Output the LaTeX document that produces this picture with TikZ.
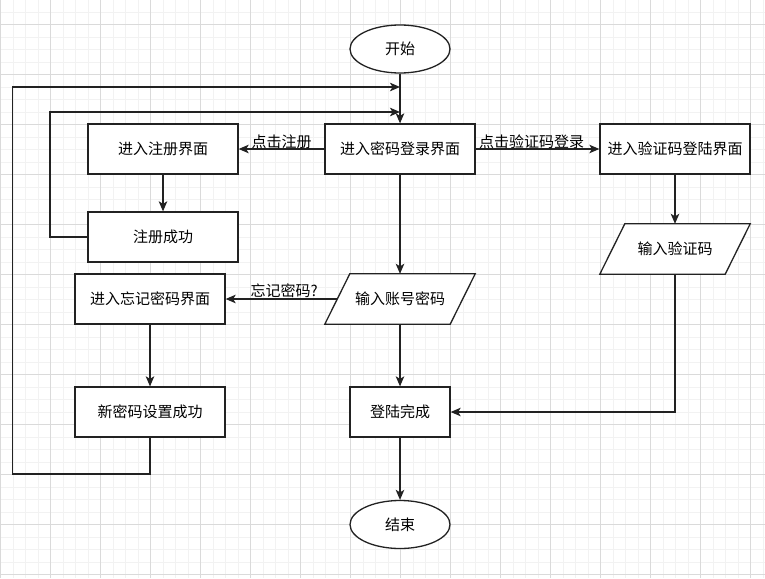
\documentclass[tikz,border=0pt]{standalone}
\usepackage{fontspec}
\newfontfamily\cjk{Noto Sans CJK SC}
\usetikzlibrary{arrows.meta,shapes.geometric}
\definecolor{minorgrid}{HTML}{F2F2F2}
\definecolor{majorgrid}{HTML}{DADADA}
\definecolor{ink}{HTML}{222222}
\tikzset{
  base/.style={font=\cjk\fontsize{15}{18}\selectfont, text=black},
  box/.style={base, draw=ink, line width=1.3pt, fill=white, minimum width=150pt, minimum height=50pt, inner sep=0pt},
  ell/.style={base, ellipse, draw=ink, line width=1.3pt, fill=white, minimum width=100pt, minimum height=48pt, inner sep=0pt},
  paratext/.style={base, minimum width=150pt, minimum height=50pt, inner sep=0pt},
  arr/.style={draw=ink, line width=1.3pt, -{Stealth[length=10pt,width=8.5pt,inset=2.5pt]}},
  lbl/.style={base, inner sep=0pt}
}
\begin{document}
\begin{tikzpicture}[x=1pt,y=-1pt]
\useasboundingbox (0,0) rectangle (765,578);
\fill[white] (0,0) rectangle (765,578);
% grid
\foreach \i in {0,...,61} {
  \draw[minorgrid, line width=0.8pt] ({0.5+12.5*\i},0) -- ({0.5+12.5*\i},578);
}
\foreach \i in {-1,...,46} {
  \draw[minorgrid, line width=0.8pt] (0,{24.5+12.5*\i}) -- (765,{24.5+12.5*\i});
}
\foreach \i in {0,...,15} {
  \draw[majorgrid, line width=0.9pt] ({0.5+50*\i},0) -- ({0.5+50*\i},578);
}
\foreach \i in {0,...,11} {
  \draw[majorgrid, line width=0.9pt] (0,{24.5+50*\i}) -- (765,{24.5+50*\i});
}

% nodes
\node[ell] (start) at (400,49) {开始};
\node[box] (pwd) at (400,149) {进入密码登录界面};
\node[box] (reg) at (163,149) {进入注册界面};
\node[box] (regok) at (163,237) {注册成功};
\node[box] (sms) at (675,149) {进入验证码登陆界面};
\node[box] (forgot) at (150,299) {进入忘记密码界面};
\node[box] (newok) at (150,412) {新密码设置成功};
\node[box, minimum width=100pt] (done) at (400,412) {登陆完成};
\node[ell] (end) at (400,524.5) {结束};

% parallelograms
\node[paratext] (acct) at (400,299) {};
\filldraw[fill=white, draw=ink, line width=1.3pt]
  ([xshift=25pt]acct.north west) -- (acct.north east)
  -- ([xshift=-25pt]acct.south east) -- (acct.south west) -- cycle;
\node[lbl] at (acct.center) {输入账号密码};
\node[paratext] (code) at (675,249) {};
\filldraw[fill=white, draw=ink, line width=1.3pt]
  ([xshift=25pt]code.north west) -- (code.north east)
  -- ([xshift=-25pt]code.south east) -- (code.south west) -- cycle;
\node[lbl] at (code.center) {输入验证码};

% junction coordinates
\coordinate (j1) at (400,112);
\coordinate (j2) at (400,87);
\coordinate (c1) at (12.5,474);
\coordinate (c2) at (50,237);

% connectors
\draw[arr] (start) -- (pwd);
\draw[arr] (pwd.west) -- (reg.east) node[lbl, pos=0.5, yshift=7pt] {点击注册};
\draw[arr] (pwd.east) -- (sms.west) node[lbl, pos=0.452, yshift=7pt] {点击验证码登录};
\draw[arr] (reg) -- (regok);
\draw[arr] (regok.west) -- (c2) |- (j1);
\draw[arr] (pwd) -- (acct);
\draw[arr] ([xshift=12.5pt]acct.west) -- (forgot.east) node[lbl, pos=0.476, yshift=8pt] {忘记密码?};
\draw[arr] (forgot) -- (newok);
\draw[arr] (newok.south) |- (c1) |- (j2);
\draw[arr] (acct) -- (done);
\draw[arr] (sms) -- (code);
\draw[arr] (code.south) |- (done.east);
\draw[arr] (done) -- (end);
\end{tikzpicture}
\end{document}
